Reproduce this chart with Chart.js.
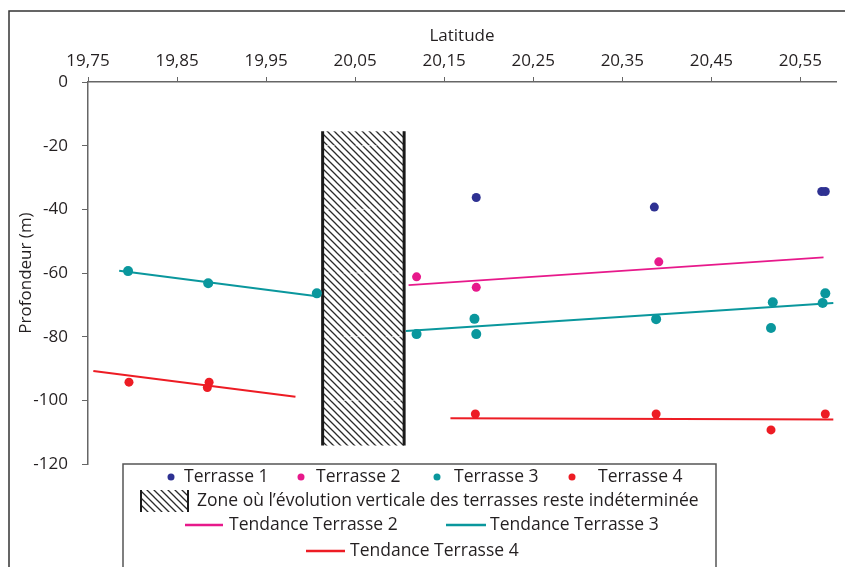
<!DOCTYPE html>
<html>
<head>
<meta charset="utf-8">
<script src="https://cdn.jsdelivr.net/npm/chart.js@4.4.0/dist/chart.umd.min.js"></script>
<style>
  html, body { margin: 0; padding: 0; background: #fff; }
  #wrap { width: 845px; height: 567px; }
</style>
</head>
<body>
<div id="wrap"><canvas id="chart" width="845" height="567"></canvas></div>
<script>
const FONT = "'Open Sans', 'DejaVu Sans', sans-serif";
const TEXT = '#231f20';

// measurements: latitude (°) and depth (m) per terrace
const t1Lat = [20.186, 20.386, 20.574, 20.578];
const t1Depth = [-36.3, -39.3, -34.4, -34.4];

const t2Lat = [20.119, 20.186, 20.391];
const t2Depth = [-61.2, -64.5, -56.5];

const t3Lat = [19.795, 19.885, 20.007, 20.119, 20.184, 20.186, 20.388, 20.519, 20.517, 20.578, 20.575];
const t3Depth = [-59.4, -63.2, -66.4, -79.2, -74.4, -79.2, -74.5, -69.2, -77.3, -66.4, -69.4];

const t4Lat = [19.796, 19.886, 19.884, 20.185, 20.388, 20.517, 20.578];
const t4Depth = [-94.3, -94.3, -96.0, -104.3, -104.3, -109.3, -104.3];

// trend line end points
const trend2Lat = [20.110, 20.576];
const trend2Depth = [-63.8, -55.1];
const trend3WestLat = [19.785, 20.007];
const trend3WestDepth = [-59.3, -67.3];
const trend3EastLat = [20.107, 20.587];
const trend3EastDepth = [-78.2, -69.4];
const trend4WestLat = [19.756, 19.983];
const trend4WestDepth = [-90.8, -98.9];
const trend4EastLat = [20.157, 20.587];
const trend4EastDepth = [-105.6, -106.0];

// undetermined zone
const zoneLat = [20.0135, 20.105];
const zoneDepth = [-15.5, -114.2];

const xTicks = [19.75, 19.85, 19.95, 20.05, 20.15, 20.25, 20.35, 20.45, 20.55];
const yTicks = [0, -20, -40, -60, -80, -100, -120];

const NAVY = '#2e3192';
const PINK = '#e7198b';
const TEAL = '#0a979d';
const RED = '#ed1c24';

function pts(xs, ys) {
    return xs.map((x, i) => ({ x: x, y: ys[i] }));
}

function pointSet(label, xs, ys, color, r) {
    return {
        label: label, data: pts(xs, ys),
        backgroundColor: color, borderColor: color, borderWidth: 0,
        pointRadius: r, order: 1
    };
}

function trendSet(label, xs, ys, color, w) {
    return {
        label: label, data: pts(xs, ys), showLine: true,
        borderColor: color, borderWidth: w, pointRadius: 0, order: 2
    };
}

function hatchPattern(ctx) {
    const s = 7;
    const c = document.createElement('canvas');
    c.width = s; c.height = s;
    const p = c.getContext('2d');
    p.strokeStyle = '#2a2a2a';
    p.lineWidth = 1.3;
    p.beginPath();
    p.moveTo(0, 0); p.lineTo(s, s);
    p.moveTo(-1, s - 1); p.lineTo(1, s + 1);
    p.moveTo(s - 1, -1); p.lineTo(s + 1, 1);
    p.stroke();
    return ctx.createPattern(c, 'repeat');
}

// outer frame line
const framePlugin = {
    id: 'frame',
    beforeDraw(chart) {
        const ctx = chart.ctx;
        ctx.save();
        ctx.strokeStyle = '#333';
        ctx.lineWidth = 1.5;
        ctx.beginPath();
        ctx.moveTo(9, 567); ctx.lineTo(9, 11); ctx.lineTo(845, 11);
        ctx.stroke();
        ctx.restore();
    }
};

// hatched zone between the two groups
const zonePlugin = {
    id: 'zone',
    beforeDatasetsDraw(chart) {
        const ctx = chart.ctx;
        const xs = chart.scales.x, ys = chart.scales.y;
        const x0 = xs.getPixelForValue(zoneLat[0]), x1 = xs.getPixelForValue(zoneLat[1]);
        const y0 = ys.getPixelForValue(zoneDepth[0]), y1 = ys.getPixelForValue(zoneDepth[1]);
        ctx.save();
        ctx.fillStyle = hatchPattern(ctx);
        ctx.fillRect(x0, y0, x1 - x0, y1 - y0);
        // light dashed grid lines over the hatch
        ctx.strokeStyle = 'rgba(255,255,255,0.75)';
        ctx.lineWidth = 1;
        ctx.setLineDash([3, 3]);
        yTicks.forEach(v => {
            const y = ys.getPixelForValue(v);
            if (y > y0 && y < y1) {
                ctx.beginPath();
                ctx.moveTo(x0 + 3, y); ctx.lineTo(x1 - 3, y);
                ctx.stroke();
            }
        });
        ctx.setLineDash([]);
        ctx.strokeStyle = '#1a1a1a';
        ctx.lineWidth = 3;
        ctx.beginPath();
        ctx.moveTo(x0, y0); ctx.lineTo(x0, y1);
        ctx.moveTo(x1, y0); ctx.lineTo(x1, y1);
        ctx.stroke();
        ctx.restore();
    }
};

// boxed legend under the plot
const legendPlugin = {
    id: 'boxLegend',
    afterDraw(chart) {
        const ctx = chart.ctx;
        ctx.save();
        ctx.fillStyle = '#fff';
        ctx.fillRect(123, 464, 593, 110);
        ctx.strokeStyle = '#555';
        ctx.lineWidth = 1.5;
        ctx.strokeRect(123, 464, 593, 110);

        ctx.font = '17.5px ' + FONT;
        ctx.textBaseline = 'middle';
        ctx.textAlign = 'left';

        const dots = [
            [171, 184, NAVY, 'Terrasse 1'],
            [301, 316, PINK, 'Terrasse 2'],
            [437, 454, TEAL, 'Terrasse 3'],
            [572, 598, RED, 'Terrasse 4']
        ];
        dots.forEach(d => {
            ctx.fillStyle = d[2];
            ctx.beginPath();
            ctx.arc(d[0], 477, 3.5, 0, Math.PI * 2);
            ctx.fill();
            ctx.fillStyle = TEXT;
            ctx.fillText(d[3], d[1], 477);
        });

        // hatch swatch
        ctx.fillStyle = hatchPattern(ctx);
        ctx.fillRect(140, 490, 49, 22);
        ctx.strokeStyle = '#1a1a1a';
        ctx.lineWidth = 2;
        ctx.beginPath();
        ctx.moveTo(141, 490); ctx.lineTo(141, 512);
        ctx.moveTo(188, 490); ctx.lineTo(188, 512);
        ctx.stroke();
        ctx.fillStyle = TEXT;
        ctx.fillText('Zone où l\u2019évolution verticale des terrasses reste indéterminée', 197, 501);

        const lines = [
            [185, 223, 525, PINK, 229, 'Tendance Terrasse 2'],
            [446, 486, 525, TEAL, 490, 'Tendance Terrasse 3'],
            [306, 345, 551, RED, 350, 'Tendance Terrasse 4']
        ];
        lines.forEach(l => {
            ctx.strokeStyle = l[3];
            ctx.lineWidth = 2.5;
            ctx.beginPath();
            ctx.moveTo(l[0], l[2]); ctx.lineTo(l[1], l[2]);
            ctx.stroke();
            ctx.fillStyle = TEXT;
            ctx.fillText(l[5], l[4], l[2]);
        });
        ctx.restore();
    }
};

new Chart(document.getElementById('chart').getContext('2d'), {
    type: 'scatter',
    data: {
        datasets: [
            pointSet('Terrasse 1', t1Lat, t1Depth, NAVY, 4.5),
            pointSet('Terrasse 2', t2Lat, t2Depth, PINK, 4.5),
            pointSet('Terrasse 3', t3Lat, t3Depth, TEAL, 5),
            pointSet('Terrasse 4', t4Lat, t4Depth, RED, 4.5),
            trendSet('Tendance Terrasse 2', trend2Lat, trend2Depth, PINK, 1.6),
            trendSet('Tendance Terrasse 3', trend3WestLat, trend3WestDepth, TEAL, 2),
            trendSet('Tendance Terrasse 3', trend3EastLat, trend3EastDepth, TEAL, 2),
            trendSet('Tendance Terrasse 4', trend4WestLat, trend4WestDepth, RED, 2),
            trendSet('Tendance Terrasse 4', trend4EastLat, trend4EastDepth, RED, 2)
        ]
    },
    options: {
        responsive: false,
        animation: false,
        events: [],
        layout: { padding: { top: 24, left: 10, right: 9, bottom: 103 } },
        plugins: { legend: { display: false }, tooltip: { enabled: false } },
        scales: {
            x: {
                type: 'linear', position: 'top', min: 19.75, max: 20.59,
                afterBuildTicks: s => { s.ticks = xTicks.map(v => ({ value: v })); },
                afterFit: s => { s.height = 58; },
                ticks: {
                    padding: 6, color: TEXT, font: { family: FONT, size: 17 },
                    maxRotation: 0, autoSkip: false,
                    callback: v => v.toFixed(2).replace('.', ',')
                },
                grid: { drawOnChartArea: false, tickLength: 5, tickColor: '#666', tickWidth: 1 },
                border: { color: '#666', width: 1.5 },
                title: { display: true, text: 'Latitude', color: TEXT, font: { family: FONT, size: 17 }, padding: { top: 2, bottom: 0 } }
            },
            y: {
                type: 'linear', min: -120, max: 0,
                afterBuildTicks: s => { s.ticks = yTicks.map(v => ({ value: v })); },
                afterFit: s => { s.width = 78; },
                ticks: {
                    padding: 14, color: TEXT, font: { family: FONT, size: 17 },
                    callback: v => String(v)
                },
                grid: { drawOnChartArea: false, tickLength: 6, tickColor: '#666', tickWidth: 1 },
                border: { color: '#666', width: 1.5 },
                title: { display: true, text: 'Profondeur (m)', color: TEXT, font: { family: FONT, size: 17 }, padding: { top: 6, bottom: 0 } }
            }
        }
    },
    plugins: [framePlugin, zonePlugin, legendPlugin]
});
</script>
</body>
</html>
